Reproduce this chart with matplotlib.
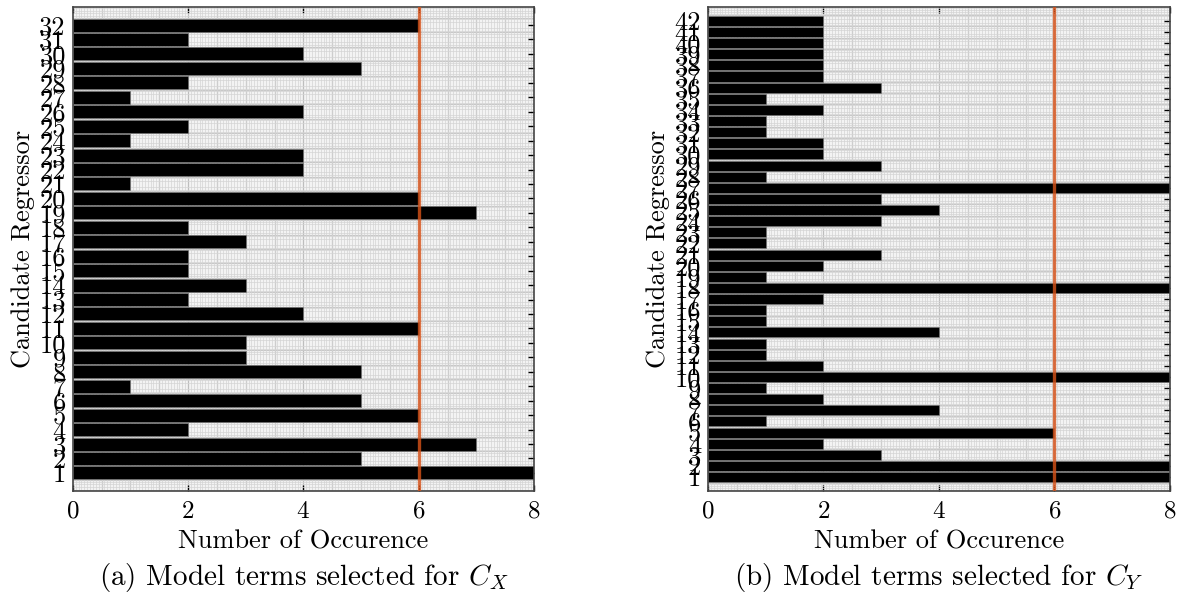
import matplotlib
matplotlib.use("Agg")
import matplotlib.pyplot as plt
import numpy as np
from matplotlib.ticker import MultipleLocator

plt.rcParams['font.family'] = 'serif'
plt.rcParams['font.serif'] = ['cmr10', 'DejaVu Serif']
plt.rcParams['mathtext.fontset'] = 'cm'
plt.rcParams['axes.unicode_minus'] = False
plt.rcParams['axes.formatter.use_mathtext'] = True

# occurrences of each candidate regressor (index 1..N)
counts_x = [8, 5, 7, 2, 6, 5, 1, 5, 3, 3, 6, 4, 2, 3, 2, 2,
            3, 2, 7, 6, 1, 4, 4, 1, 2, 4, 1, 2, 5, 4, 2, 6]
counts_y = [8, 8, 3, 2, 6, 1, 4, 2, 1, 8, 2, 1, 1, 4, 1, 1, 2, 8, 1, 2, 3,
            1, 1, 3, 4, 3, 8, 1, 3, 2, 2, 1, 1, 2, 1, 3, 2, 2, 2, 2, 2, 2]
threshold = 6
x_max = 8
captions = [r'(a) Model terms selected for $C_X$',
            r'(b) Model terms selected for $C_Y$']

fig = plt.figure(figsize=(11.77, 6), dpi=100)
positions = [[0.0618, 0.1817, 0.3919, 0.8067],
             [0.6015, 0.1817, 0.3925, 0.8067]]

for pos, counts, cap in zip(positions, [counts_x, counts_y], captions):
    ax = fig.add_axes(pos)
    n = len(counts)
    idx = np.arange(1, n + 1)

    ax.set_facecolor('#f3f3f3')
    ax.xaxis.set_minor_locator(MultipleLocator(0.05))
    ax.yaxis.set_minor_locator(MultipleLocator(0.2))
    ax.grid(which='minor', color='#d4d4d4', lw=0.5, ls='-')
    for xv in np.arange(0.5, x_max, 0.5):
        ax.axvline(xv, color='#bdbdbd', lw=0.9, zorder=0.5)
    for yv in np.arange(0.5, n + 1, 1.0):
        ax.axhline(yv, color='#c8c8c8', lw=0.8, zorder=0.5)
    ax.set_axisbelow(True)

    ax.barh(idx, counts, height=0.9, color='black', edgecolor='#777777',
            linewidth=0.4, zorder=2)
    ax.axvline(threshold, color='#d95319', lw=2.4, alpha=0.8, zorder=3)

    ax.set_xlim(0, x_max)
    ax.set_ylim(-0.25, n + 1.25)
    ax.set_xticks([0, 2, 4, 6, 8])
    ax.set_yticks(idx)
    ax.set_yticklabels([str(i) for i in idx])
    ax.tick_params(axis='x', which='major', direction='in', top=True,
                   bottom=True, length=4, width=1, labelsize=18, pad=7)
    ax.tick_params(axis='y', which='major', direction='in', left=False,
                   right=True, labelleft=True, length=4, width=1,
                   labelsize=19, pad=5)
    ax.tick_params(which='minor', length=0)
    for s in ax.spines.values():
        s.set_color('#444444')
        s.set_linewidth(1.2)

    ax.set_xlabel('Number of Occurence', fontsize=19, labelpad=5)
    ax.set_ylabel('Candidate Regressor', fontsize=19, labelpad=3)
    ax.text(0.5, -0.178, cap, transform=ax.transAxes, ha='center',
            va='center', fontsize=21)

fig.savefig('out.png', dpi=100)
